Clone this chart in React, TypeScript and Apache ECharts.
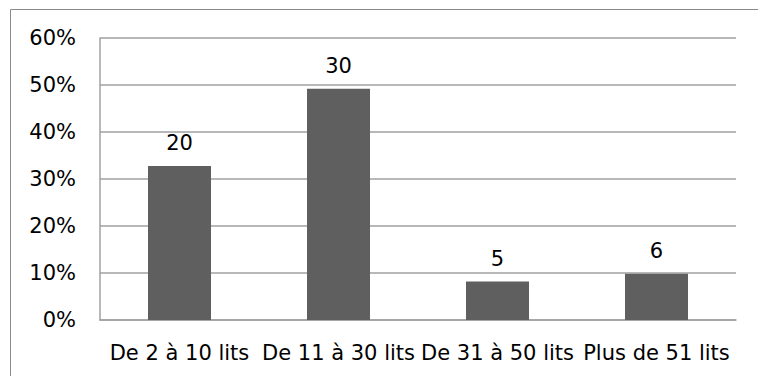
import React, { useEffect, useRef } from "react";
import * as echarts from "echarts";

// Number of establishments per bed-count bracket
const categories = ["De 2 à 10 lits", "De 11 à 30 lits", "De 31 à 50 lits", "Plus de 51 lits"];
const counts = [20, 30, 5, 6];
const yTicks = [0, 0.1, 0.2, 0.3, 0.4, 0.5, 0.6];

const FONT = "DejaVu Sans";
const FONT_SIZE = 21;

export default function App() {
  const ref = useRef<HTMLDivElement>(null);

  useEffect(() => {
    if (!ref.current) return;
    const chart = echarts.init(ref.current, undefined, { renderer: "svg" });
    const total = counts.reduce((a, b) => a + b, 0);
    const shares = counts.map((c) => c / total);

    chart.setOption({
      animation: false,
      backgroundColor: "#ffffff",
      graphic: [
        {
          type: "rect",
          shape: { x: 10.5, y: 9.5, width: 800, height: 400 },
          style: { fill: "none", stroke: "#8a8a8a", lineWidth: 1 },
          silent: true,
        },
      ],
      grid: { left: 100, right: 22, top: 38, bottom: 56 },
      xAxis: {
        type: "category",
        data: categories,
        axisTick: { show: false },
        axisLine: { show: true, lineStyle: { color: "#a0a0a0", width: 1.5 } },
        axisLabel: {
          color: "#000",
          fontFamily: FONT,
          fontSize: FONT_SIZE,
          margin: 22,
          interval: 0,
        },
      },
      yAxis: {
        type: "value",
        min: yTicks[0],
        max: yTicks[yTicks.length - 1],
        interval: 0.1,
        axisLine: { show: true, lineStyle: { color: "#a0a0a0", width: 1.5 } },
        axisTick: { show: false },
        splitLine: { show: true, lineStyle: { color: "#a0a0a0", width: 1.5 } },
        axisLabel: {
          color: "#000",
          fontFamily: FONT,
          fontSize: FONT_SIZE,
          margin: 24,
          formatter: (v: number) => `${Math.round(v * 100)}%`,
        },
      },
      series: [
        {
          type: "bar",
          data: shares,
          barWidth: 63,
          itemStyle: { color: "#5f5f5f" },
          label: {
            show: true,
            position: "top",
            distance: 12,
            color: "#000",
            fontFamily: FONT,
            fontSize: FONT_SIZE,
            formatter: (p: any) => `${counts[p.dataIndex]}`,
          },
        },
      ],
    });

    return () => chart.dispose();
  }, []);

  return <div ref={ref} style={{ width: 758, height: 376, position: "absolute", left: 0, top: 0 }} />;
}
